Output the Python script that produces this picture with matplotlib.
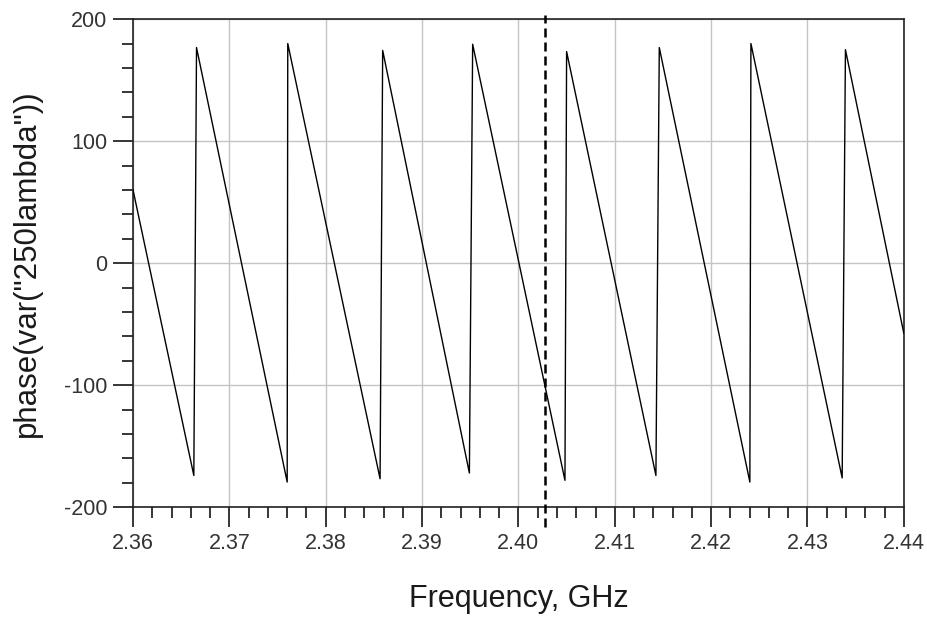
import matplotlib
matplotlib.use("Agg")
import matplotlib.pyplot as plt
from matplotlib.ticker import MultipleLocator, FormatStrFormatter

plt.rcParams["font.family"] = ["Liberation Sans", "DejaVu Sans"]
plt.rcParams["axes.unicode_minus"] = False

# Frequency (GHz) and wrapped phase (deg): start, then
# trough/peak pairs at each wrap, then the end point.
freq_ghz = [2.3600,
            2.36631, 2.36659,
            2.37600, 2.37606,
            2.38564, 2.38591,
            2.39491, 2.39525,
            2.40483, 2.40500,
            2.41427, 2.41462,
            2.42402, 2.42413,
            2.43360, 2.43394,
            2.4400]
phase_deg = [60.0,
             -174.0, 176.7,
             -179.4, 180.0,
             -176.7, 174.4,
             -172.0, 179.4,
             -178.0, 173.4,
             -174.0, 176.7,
             -179.4, 180.0,
             -176.0, 175.0,
             -57.5]

marker_freq = 2.4028

x_limits = (2.36, 2.44)
y_limits = (-200, 200)

fig = plt.figure(figsize=(9.27, 6.17), dpi=100)
ax = fig.add_axes([0.1435, 0.178, 0.8315, 0.791])

ax.plot(freq_ghz, phase_deg, color="black", linewidth=1.0, zorder=3)

# vertical marker, runs a little past the frame like the original
ax.axvline(marker_freq, ymin=-0.041, ymax=1.008, color="black",
           linewidth=1.8, linestyle=(0, (3.6, 2.0)), clip_on=False, zorder=4)

ax.set_xlim(*x_limits)
ax.set_ylim(*y_limits)

ax.xaxis.set_major_locator(MultipleLocator(0.01))
ax.xaxis.set_minor_locator(MultipleLocator(0.002))
ax.yaxis.set_major_locator(MultipleLocator(100))
ax.yaxis.set_minor_locator(MultipleLocator(20))
ax.xaxis.set_major_formatter(FormatStrFormatter("%.2f"))

ax.tick_params(which="major", direction="out", length=14.4, width=1.1,
               labelsize=15.5, pad=4, colors="black", labelcolor="#333333")
ax.tick_params(which="minor", direction="out", length=7.8, width=1.1,
               colors="black")

ax.grid(True, which="major", color="#c4c4c4", linewidth=1.0)
ax.set_axisbelow(True)

for side in ax.spines.values():
    side.set_color("#222222")
    side.set_linewidth(1.2)

ax.set_xlabel("Frequency, GHz", fontsize=22, color="#1a1a1a", labelpad=22)
ax.set_ylabel('phase(var("250lambda"))', fontsize=22.5, color="#1a1a1a",
              labelpad=16)

fig.savefig("out.png", dpi=100)
